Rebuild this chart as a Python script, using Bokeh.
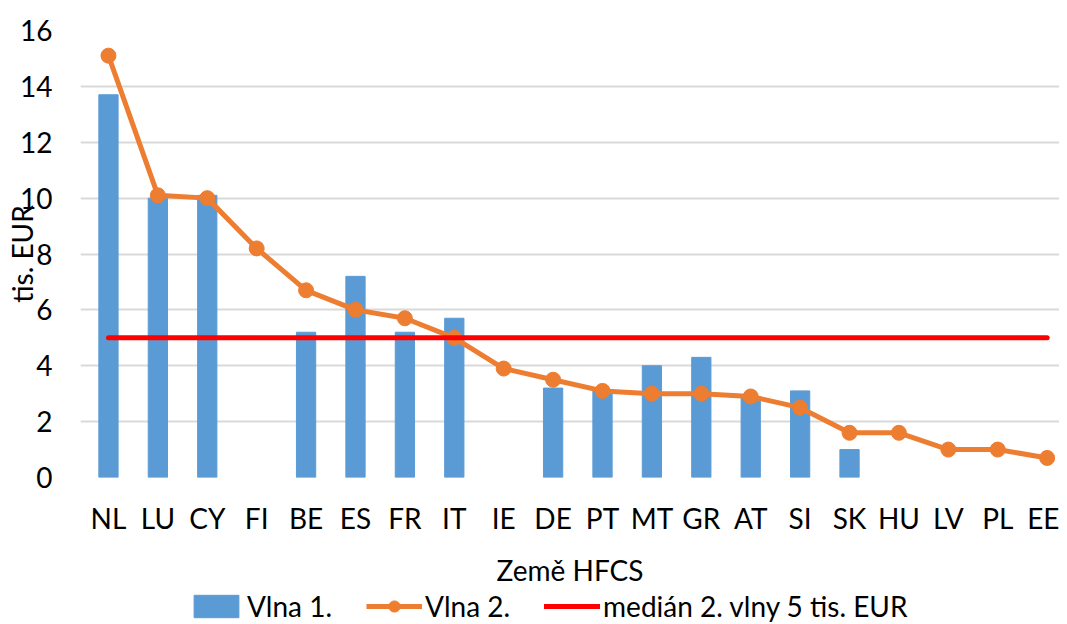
import math
from bokeh.plotting import figure
from bokeh.layouts import column
from bokeh.models import Range1d, FixedTicker, Legend, LegendItem
from bokeh.embed import file_html
from bokeh.resources import INLINE

countries = ["NL", "LU", "CY", "FI", "BE", "ES", "FR", "IT", "IE", "DE",
             "PT", "MT", "GR", "AT", "SI", "SK", "HU", "LV", "PL", "EE"]
wave1 = [13.7, 10.0, 10.1, None, 5.2, 7.2, 5.2, 5.7, None, 3.2,
         3.1, 4.0, 4.3, 2.9, 3.1, 1.0, None, None, None, None]
wave2 = [15.1, 10.1, 10.0, 8.2, 6.7, 6.0, 5.7, 5.0, 3.9, 3.5,
         3.1, 3.0, 3.0, 2.9, 2.5, 1.6, 1.6, 1.0, 1.0, 0.7]
median_value = 5
y_ticks = [0, 2, 4, 6, 8, 10, 12, 14, 16]
series_names = ["Vlna 1.", "Vlna 2.", "medián 2. vlny 5 tis. EUR"]

FONT = "Lato"
FS = "28px"
BLUE = "#5B9BD5"
ORANGE = "#ED7D31"
RED = "#FF0000"

idx = list(range(len(countries)))
bar_x = [i for i, v in zip(idx, wave1) if v is not None]
bar_top = [v for v in wave1 if v is not None]
med_x = [idx[0], idx[-1]]
med_y = [median_value, median_value]


def draw_series(fig):
    b = fig.vbar(x=bar_x, top=bar_top, width=0.39, bottom=0,
                 fill_color=BLUE, line_color=BLUE)
    l = fig.line(x=idx, y=wave2, line_color=ORANGE, line_width=5)
    m = fig.scatter(x=idx, y=wave2, size=15, fill_color=ORANGE, line_color=ORANGE)
    r = fig.line(x=med_x, y=med_y, line_color=RED, line_width=5, line_cap="round")
    return b, l, m, r


W = 1059
p = figure(width=W, height=589, output_backend="svg", toolbar_location=None,
           x_range=Range1d(-0.566, 19.25), y_range=Range1d(0, 16),
           min_border_left=80, min_border_right=0, min_border_top=30,
           min_border_bottom=110)
p.outline_line_color = None
draw_series(p)

# axes
p.xaxis.ticker = FixedTicker(ticks=idx)
p.xaxis.major_label_overrides = {i: c for i, c in zip(idx, countries)}
p.yaxis.ticker = FixedTicker(ticks=y_ticks)
for ax in (p.xaxis[0], p.yaxis[0]):
    ax.axis_line_color = None
    ax.major_tick_line_color = None
    ax.minor_tick_line_color = None
    ax.major_label_text_font = FONT
    ax.major_label_text_font_size = FS
    ax.major_label_text_color = "#000000"
    ax.axis_label_text_font = FONT
    ax.axis_label_text_font_size = FS
    ax.axis_label_text_font_style = "normal"
    ax.axis_label_text_color = "#000000"
p.xaxis.major_label_standoff = 17
p.yaxis.major_label_standoff = 22
p.xaxis.axis_label = "Země HFCS"
p.xaxis.axis_label_standoff = 15
p.yaxis.axis_label = "tis. EUR"
p.yaxis.axis_label_standoff = -22

p.xgrid.grid_line_color = None
p.ygrid.grid_line_color = "#D9D9D9"
p.ygrid.grid_line_width = 2

# legend strip: same series drawn in a separate figure whose view hides them
lf = figure(width=W, height=34, output_backend="svg", toolbar_location=None,
            x_range=Range1d(0, 1), y_range=Range1d(100, 101),
            min_border_left=0, min_border_right=0, min_border_top=0,
            min_border_bottom=0)
lf.outline_line_color = None
lf.axis.visible = False
lf.grid.visible = False
lb, ll, lm, lr = draw_series(lf)

legend = Legend(items=[
    LegendItem(label=series_names[0], renderers=[lb]),
    LegendItem(label=series_names[1], renderers=[ll, lm]),
    LegendItem(label=series_names[2], renderers=[lr]),
], orientation="horizontal", location=(108, 0))
legend.label_text_font = FONT
legend.label_text_font_size = FS
legend.label_text_color = "#000000"
legend.glyph_width = 56
legend.glyph_height = 28
legend.label_standoff = 3
legend.spacing = 34
legend.padding = 0
legend.margin = 0
legend.border_line_color = None
legend.background_fill_alpha = 0
lf.add_layout(legend)

layout = column(p, lf, spacing=0)
open("out.html", "w").write(file_html(layout, INLINE))
